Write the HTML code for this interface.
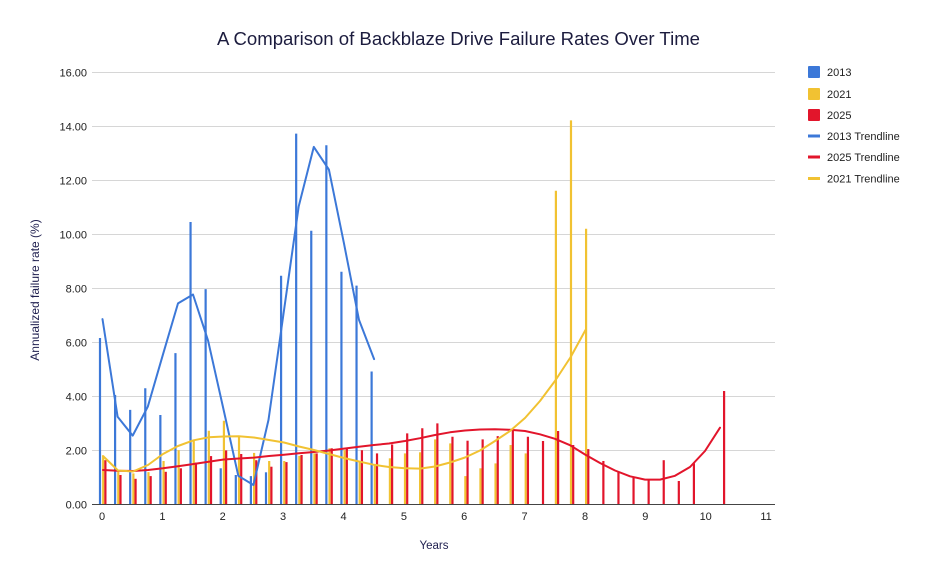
<!DOCTYPE html>
<html><head><meta charset="utf-8"><style>
html,body{margin:0;padding:0;background:#fff;}
svg{display:block;font-family:"Liberation Sans",Arial,sans-serif;}
</style></head><body>
<svg width="936" height="580" viewBox="0 0 936 580" xmlns="http://www.w3.org/2000/svg">
<rect width="936" height="580" fill="#fff"/>
<text x="458.5" y="45" font-size="18" fill="#1c1c3e" text-anchor="middle" textLength="483" lengthAdjust="spacingAndGlyphs">A Comparison of Backblaze Drive Failure Rates Over Time</text>
<g stroke="#d6d6d6" stroke-width="1">
<line x1="92" y1="450.5" x2="775" y2="450.5"/>
<line x1="92" y1="396.5" x2="775" y2="396.5"/>
<line x1="92" y1="342.5" x2="775" y2="342.5"/>
<line x1="92" y1="288.5" x2="775" y2="288.5"/>
<line x1="92" y1="234.5" x2="775" y2="234.5"/>
<line x1="92" y1="180.5" x2="775" y2="180.5"/>
<line x1="92" y1="126.5" x2="775" y2="126.5"/>
<line x1="92" y1="72.5" x2="775" y2="72.5"/>
</g>
<g font-size="11" fill="#222" text-anchor="end">
<text x="87" y="508.5">0.00</text>
<text x="87" y="454.5">2.00</text>
<text x="87" y="400.5">4.00</text>
<text x="87" y="346.5">6.00</text>
<text x="87" y="292.5">8.00</text>
<text x="87" y="238.5">10.00</text>
<text x="87" y="184.5">12.00</text>
<text x="87" y="130.5">14.00</text>
<text x="87" y="76.5">16.00</text>
</g>
<g font-size="11" fill="#222" text-anchor="middle">
<text x="102" y="520">0</text>
<text x="162.4" y="520">1</text>
<text x="222.7" y="520">2</text>
<text x="283.1" y="520">3</text>
<text x="343.5" y="520">4</text>
<text x="403.9" y="520">5</text>
<text x="464.2" y="520">6</text>
<text x="524.6" y="520">7</text>
<text x="585" y="520">8</text>
<text x="645.3" y="520">9</text>
<text x="705.7" y="520">10</text>
<text x="766.1" y="520">11</text>
</g>
<text x="434" y="549" font-size="11.5" fill="#1f1f4f" text-anchor="middle">Years</text>
<text transform="translate(39,290) rotate(-90)" font-size="12" fill="#1f1f4f" text-anchor="middle">Annualized failure rate (%)</text>
<g stroke="#3c78d8" stroke-width="2.2">
<line x1="100" y1="504.5" x2="100" y2="338"/>
<line x1="115.09" y1="504.5" x2="115.09" y2="395"/>
<line x1="130.18" y1="504.5" x2="130.18" y2="409.9"/>
<line x1="145.27" y1="504.5" x2="145.27" y2="388.3"/>
<line x1="160.36" y1="504.5" x2="160.36" y2="415"/>
<line x1="175.45" y1="504.5" x2="175.45" y2="353.1"/>
<line x1="190.54" y1="504.5" x2="190.54" y2="222"/>
<line x1="205.63" y1="504.5" x2="205.63" y2="289.1"/>
<line x1="220.72" y1="504.5" x2="220.72" y2="468.3"/>
<line x1="235.81" y1="504.5" x2="235.81" y2="475"/>
<line x1="250.9" y1="504.5" x2="250.9" y2="476.1"/>
<line x1="265.99" y1="504.5" x2="265.99" y2="472.3"/>
<line x1="281.08" y1="504.5" x2="281.08" y2="275.8"/>
<line x1="296.17" y1="504.5" x2="296.17" y2="133.6"/>
<line x1="311.26" y1="504.5" x2="311.26" y2="230.7"/>
<line x1="326.35" y1="504.5" x2="326.35" y2="145.3"/>
<line x1="341.44" y1="504.5" x2="341.44" y2="271.8"/>
<line x1="356.53" y1="504.5" x2="356.53" y2="285.6"/>
<line x1="371.62" y1="504.5" x2="371.62" y2="371.5"/>
</g>
<g stroke="#f1c232" stroke-width="2.2">
<line x1="103.2" y1="504.5" x2="103.2" y2="455.8"/>
<line x1="118.29" y1="504.5" x2="118.29" y2="470.2"/>
<line x1="133.38" y1="504.5" x2="133.38" y2="473.4"/>
<line x1="148.47" y1="504.5" x2="148.47" y2="472.1"/>
<line x1="163.56" y1="504.5" x2="163.56" y2="461"/>
<line x1="178.65" y1="504.5" x2="178.65" y2="450.2"/>
<line x1="193.74" y1="504.5" x2="193.74" y2="440.4"/>
<line x1="208.83" y1="504.5" x2="208.83" y2="430.7"/>
<line x1="223.92" y1="504.5" x2="223.92" y2="420.7"/>
<line x1="239.01" y1="504.5" x2="239.01" y2="435.6"/>
<line x1="254.1" y1="504.5" x2="254.1" y2="452.9"/>
<line x1="269.19" y1="504.5" x2="269.19" y2="461"/>
<line x1="284.28" y1="504.5" x2="284.28" y2="461"/>
<line x1="299.37" y1="504.5" x2="299.37" y2="455.8"/>
<line x1="314.46" y1="504.5" x2="314.46" y2="453.4"/>
<line x1="329.55" y1="504.5" x2="329.55" y2="448.3"/>
<line x1="344.64" y1="504.5" x2="344.64" y2="450.2"/>
<line x1="359.73" y1="504.5" x2="359.73" y2="461.8"/>
<line x1="374.82" y1="504.5" x2="374.82" y2="465"/>
<line x1="389.91" y1="504.5" x2="389.91" y2="458.3"/>
<line x1="405" y1="504.5" x2="405" y2="453.4"/>
<line x1="420.09" y1="504.5" x2="420.09" y2="452.3"/>
<line x1="435.18" y1="504.5" x2="435.18" y2="439.4"/>
<line x1="450.27" y1="504.5" x2="450.27" y2="443.4"/>
<line x1="465.36" y1="504.5" x2="465.36" y2="476.1"/>
<line x1="480.45" y1="504.5" x2="480.45" y2="468.3"/>
<line x1="495.54" y1="504.5" x2="495.54" y2="463.4"/>
<line x1="510.63" y1="504.5" x2="510.63" y2="445"/>
<line x1="525.72" y1="504.5" x2="525.72" y2="453.4"/>
<line x1="555.9" y1="504.5" x2="555.9" y2="190.7"/>
<line x1="570.99" y1="504.5" x2="570.99" y2="120.4"/>
<line x1="586.08" y1="504.5" x2="586.08" y2="228.8"/>
</g>
<g stroke="#e2152b" stroke-width="2.2">
<line x1="105.4" y1="504.5" x2="105.4" y2="460.2"/>
<line x1="120.49" y1="504.5" x2="120.49" y2="475"/>
<line x1="135.58" y1="504.5" x2="135.58" y2="478.8"/>
<line x1="150.67" y1="504.5" x2="150.67" y2="476.1"/>
<line x1="165.76" y1="504.5" x2="165.76" y2="471.8"/>
<line x1="180.85" y1="504.5" x2="180.85" y2="468.3"/>
<line x1="195.94" y1="504.5" x2="195.94" y2="462.6"/>
<line x1="211.03" y1="504.5" x2="211.03" y2="456.1"/>
<line x1="226.12" y1="504.5" x2="226.12" y2="450.4"/>
<line x1="241.21" y1="504.5" x2="241.21" y2="454"/>
<line x1="256.3" y1="504.5" x2="256.3" y2="460.2"/>
<line x1="271.39" y1="504.5" x2="271.39" y2="466.7"/>
<line x1="286.48" y1="504.5" x2="286.48" y2="462.1"/>
<line x1="301.57" y1="504.5" x2="301.57" y2="455"/>
<line x1="316.66" y1="504.5" x2="316.66" y2="453.4"/>
<line x1="331.75" y1="504.5" x2="331.75" y2="448.3"/>
<line x1="346.84" y1="504.5" x2="346.84" y2="447.5"/>
<line x1="361.93" y1="504.5" x2="361.93" y2="450.2"/>
<line x1="377.02" y1="504.5" x2="377.02" y2="453.4"/>
<line x1="392.11" y1="504.5" x2="392.11" y2="444.5"/>
<line x1="407.2" y1="504.5" x2="407.2" y2="433.4"/>
<line x1="422.29" y1="504.5" x2="422.29" y2="428.3"/>
<line x1="437.38" y1="504.5" x2="437.38" y2="423.4"/>
<line x1="452.47" y1="504.5" x2="452.47" y2="436.7"/>
<line x1="467.56" y1="504.5" x2="467.56" y2="440.7"/>
<line x1="482.65" y1="504.5" x2="482.65" y2="439.4"/>
<line x1="497.74" y1="504.5" x2="497.74" y2="436.1"/>
<line x1="512.83" y1="504.5" x2="512.83" y2="429.9"/>
<line x1="527.92" y1="504.5" x2="527.92" y2="436.7"/>
<line x1="543.01" y1="504.5" x2="543.01" y2="441"/>
<line x1="558.1" y1="504.5" x2="558.1" y2="431"/>
<line x1="573.19" y1="504.5" x2="573.19" y2="445"/>
<line x1="588.28" y1="504.5" x2="588.28" y2="449.1"/>
<line x1="603.37" y1="504.5" x2="603.37" y2="461"/>
<line x1="618.46" y1="504.5" x2="618.46" y2="472.3"/>
<line x1="633.55" y1="504.5" x2="633.55" y2="477.7"/>
<line x1="648.64" y1="504.5" x2="648.64" y2="480.2"/>
<line x1="663.73" y1="504.5" x2="663.73" y2="460.2"/>
<line x1="678.82" y1="504.5" x2="678.82" y2="481"/>
<line x1="693.91" y1="504.5" x2="693.91" y2="463.4"/>
<line x1="724.09" y1="504.5" x2="724.09" y2="391"/>
</g>
<line x1="92" y1="504.5" x2="775" y2="504.5" stroke="#444" stroke-width="1"/>
<polyline fill="none" stroke="#3c78d8" stroke-width="2" stroke-linejoin="round" stroke-linecap="round" points="102.5,319.1 117.6,416.7 132.7,435.6 147.8,406.7 162.9,354.7 178,303.4 193,294.5 208.1,340.7 223.2,408 238.3,475.8 253.4,485 268.5,419.9 283.6,313.1 298.7,206.4 313.8,146.9 328.9,169.6 343.9,243.1 359,319.9 374.1,359.1"/>
<polyline fill="none" stroke="#e2152b" stroke-width="2" stroke-linejoin="round" stroke-linecap="round" points="103,470 118,470.8 133,471 148,470 163,468.3 178,466.2 193.7,464 208.6,461.7 223.7,459.5 239,458.5 254,457.6 269,456 284,454.7 299,453.3 314,452 329,450.5 344,448.6 359,446.8 374,445 389,443.5 405,441 420,438.2 435,435 450,432.3 465,430.5 480,429.5 495,429.2 510,429.8 525,431 540,434.3 555,438.8 570,445.2 585,454.5 600,463 615,470.5 630,476.3 645,479.6 660,479.6 675,475.8 690,467 705,451 720,427.7"/>
<polyline fill="none" stroke="#f1c232" stroke-width="2" stroke-linejoin="round" stroke-linecap="round" points="103,456 118,470.5 133,471.5 148,465 163,454 178,446 193.5,440.3 208.6,437.3 223.7,436.5 238.8,436.3 253.9,437.5 269,440 284,442.5 299,446.5 314,450 329,454 344,458 359,461.5 374,464.8 389,467 405,468.3 420,468.6 435,466.5 450,462.5 465,457.5 480,450.5 495,441 510,431 525,418 540,401 555.3,380.5 570.7,357 585.5,330"/>
<rect x="808" y="66" width="12" height="12" fill="#3c78d8" rx="1"/>
<rect x="808" y="88" width="12" height="12" fill="#f1c232" rx="1"/>
<rect x="808" y="109" width="12" height="12" fill="#e2152b" rx="1"/>
<rect x="808" y="134.5" width="12" height="3" fill="#3c78d8"/>
<rect x="808" y="155.5" width="12" height="3" fill="#e2152b"/>
<rect x="808" y="177" width="12" height="3" fill="#f1c232"/>
<g font-size="11" fill="#222">
<text x="827" y="76">2013</text>
<text x="827" y="98">2021</text>
<text x="827" y="119">2025</text>
<text x="827" y="140">2013 Trendline</text>
<text x="827" y="161">2025 Trendline</text>
<text x="827" y="182.5">2021 Trendline</text>
</g>
</svg>
</body></html>
